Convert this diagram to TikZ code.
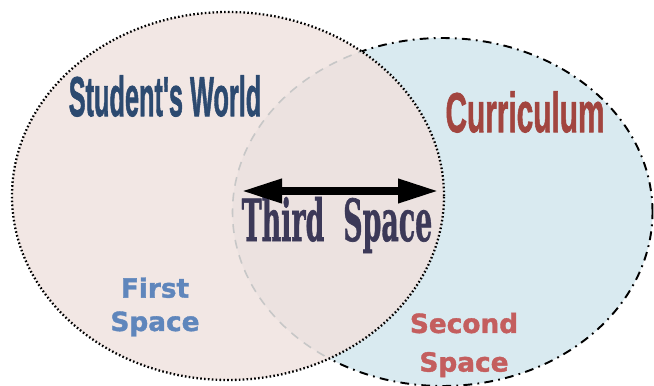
\documentclass[tikz,border=0pt]{standalone}
\usepackage{fontspec}
\usepackage{graphicx}
\usepackage{tikz}
\usetikzlibrary{arrows.meta}
\setmainfont{Liberation Sans}
\newfontfamily\condfont{Liberation Sans}[BoldFeatures={FakeBold=1.6}]
\newfontfamily\roundfont{DejaVu Sans}[BoldFeatures={FakeBold=1.4}]
\newfontfamily\slabfont{DejaVu Serif}[BoldFeatures={FakeBold=1.2}]
\definecolor{worldfill}{HTML}{F2E7E4}
\definecolor{currfill}{HTML}{D9EAF0}
\definecolor{thirdfill}{HTML}{ECE2E0}
\definecolor{worldtext}{HTML}{2C4A70}
\definecolor{currtext}{HTML}{A2453F}
\definecolor{thirdtext}{HTML}{3C3958}
\definecolor{firsttext}{HTML}{5F86BC}
\definecolor{secondtext}{HTML}{C45E5E}
\tikzset{
worldedge/.style={draw=black,line width=1.3pt,dash pattern=on 0.9pt off 1.3pt},
curredge/.style={draw=black,line width=1.1pt,dash pattern=on 5pt off 3pt on 1pt off 3pt},
hiddenedge/.style={draw=black!22,line width=0.9pt,dash pattern=on 5pt off 4pt},
bigtitle/.style={font=\condfont\bfseries\fontsize{32}{32}\selectfont,inner sep=0pt},
spacetitle/.style={font=\roundfont\bfseries\fontsize{15}{19}\selectfont,align=center,inner sep=0pt},
bridge/.style={{Triangle[length=8mm,width=4.6mm]}-{Triangle[length=8mm,width=4.6mm]},line width=4pt,black}
}
\begin{document}
\begin{tikzpicture}
\useasboundingbox (0,0) rectangle (13.08,7.7);
% the two spaces
\fill[currfill] (8.85,3.46) ellipse [x radius=4.2,y radius=3.48];
\fill[worldfill] (4.56,3.78) ellipse [x radius=4.32,y radius=3.68];
\begin{scope}
\clip (4.56,3.78) ellipse [x radius=4.32,y radius=3.68];
\fill[thirdfill] (8.85,3.46) ellipse [x radius=4.2,y radius=3.48];
\draw[hiddenedge] (8.85,3.46) ellipse [x radius=4.2,y radius=3.48];
\end{scope}
\begin{scope}[even odd rule]
\clip (-1,-1) rectangle (14,9) (4.56,3.78) ellipse [x radius=4.32,y radius=3.68];
\draw[curredge] (8.85,3.46) ellipse [x radius=4.2,y radius=3.48];
\end{scope}
\draw[worldedge] (4.56,3.78) ellipse [x radius=4.32,y radius=3.68];
% labels
\node[bigtitle,text=worldtext] (world) at (3.3,5.78) {\scalebox{0.45}[1]{Student's World}};
\node[bigtitle,text=currtext] (curr) at (10.5,5.46) {\scalebox{0.53}[1]{Curriculum}};
\node[font=\slabfont\bfseries\fontsize{30}{30}\selectfont,text=thirdtext,inner sep=0pt] (third) at (6.74,3.2) {\scalebox{0.51}[1.1]{Third\hspace{0.7em}Space}};
\node[spacetitle,text=firsttext] (first) at (3.1,1.56) {First\\Space};
\node[spacetitle,text=secondtext,font=\roundfont\bfseries\fontsize{15}{22}\selectfont] (second) at (9.28,0.8) {Second\\Space};
% arrow between the worlds
\coordinate (tsL) at (4.84,3.88);
\coordinate (tsR) at (8.76,3.88);
\draw[bridge] (tsL) -- (tsR);
\end{tikzpicture}
\end{document}
